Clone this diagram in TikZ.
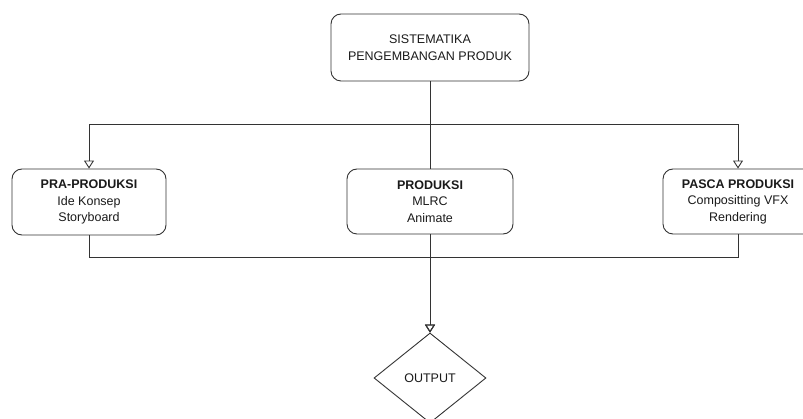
\documentclass[tikz,border=0pt]{standalone}
\usepackage{fontspec}
\setmainfont{Liberation Sans}
\usetikzlibrary{arrows.meta,shapes.geometric}
\definecolor{linec}{HTML}{333333}
\definecolor{textc}{HTML}{1A1A1A}
\begin{document}
\begin{tikzpicture}[x=1pt,y=-1pt,
  box/.style={draw=linec,line width=0.9pt,rounded corners=10pt,fill=white,
    minimum width=#1,inner sep=2pt,align=center,text=textc,
    font=\fontsize{12.5}{16.5}\selectfont},
  conn/.style={draw=linec,line width=0.9pt},
  arr/.style={conn,-{Triangle[open,length=8pt,width=10pt]}},
  dia/.style={draw=linec,line width=0.9pt,diamond,fill=white,text=textc,
    minimum width=112pt,minimum height=90pt,inner sep=0pt,aspect=1.244,
    font=\fontsize{12.5}{16.5}\selectfont}]
\useasboundingbox (0,0) rectangle (803,419);
\begin{scope}
\clip (0,0) rectangle (803,419);
\node[box=198pt,minimum height=67pt] (top) at (430,47.5) {SISTEMATIKA\\PENGEMBANGAN PRODUK};
\node[box=154pt,minimum height=66pt] (pra) at (89,202) {\textbf{PRA-PRODUKSI}\\Ide Konsep\\Storyboard};
\node[box=166pt,minimum height=65pt] (prod) at (430,201.5) {\textbf{PRODUKSI}\\MLRC\\Animate};
\node[box=150pt,minimum height=65pt] (pasca) at (738,201.5) {\textbf{PASCA PRODUKSI}\\Compositting VFX\\Rendering};
\node[dia] (out) at (430,378) {OUTPUT};
\coordinate (hy) at (0,124);
\coordinate (ly) at (0,257);
\draw[arr] (top.south) |- (pra.north |- hy) -- (pra.north);
\draw[arr] (top.south) |- (pasca.north |- hy) -- (pasca.north);
\draw[conn] (top.south) -- (prod.north);
\draw[arr] (pra.south) |- (out.north |- ly) -- (out.north);
\draw[arr] (pasca.south) |- (out.north |- ly) -- (out.north);
\draw[arr] (prod.south) -- (out.north);
\end{scope}
\end{tikzpicture}
\end{document}
